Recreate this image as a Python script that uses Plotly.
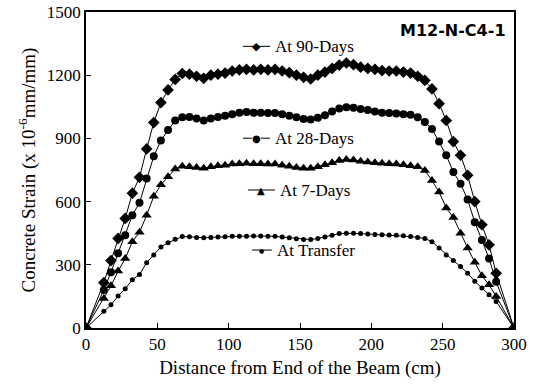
import plotly.graph_objects as go

distance = [0, 12.5, 17.5, 22.5, 27.5, 32.5, 37.5, 42.5, 47.5, 52.5, 57.5, 62.5, 67.5, 72.5,
            77.5, 82.5, 87.5, 92.5, 97.5, 102.5, 107.5, 112.5, 117.5, 122.5, 127.5, 132.5,
            137.5, 142.5, 147.5, 152.5, 157.5, 162.5, 167.5, 172.5, 177.5, 182.5, 187.5,
            192.5, 197.5, 202.5, 207.5, 212.5, 217.5, 222.5, 227.5, 232.5, 237.5, 242.5,
            247.5, 252.5, 257.5, 262.5, 267.5, 272.5, 277.5, 282.5, 287.5, 300]

strain_90d = [0, 215, 320, 425, 520, 640, 715, 850, 975, 1070, 1130, 1180, 1208, 1205,
              1195, 1185, 1200, 1205, 1210, 1220, 1225, 1228, 1225, 1228, 1225, 1228,
              1220, 1212, 1200, 1190, 1182, 1200, 1215, 1232, 1248, 1258, 1250,
              1238, 1232, 1228, 1222, 1220, 1220, 1215, 1210, 1195, 1175, 1135,
              1065, 985, 885, 820, 725, 600, 490, 395, 260, 0]

strain_28d = [0, 180, 265, 355, 440, 535, 595, 710, 815, 890, 940, 985, 1000, 1002,
              995, 985, 995, 1002, 1008, 1015, 1022, 1025, 1022, 1022, 1020, 1020,
              1015, 1008, 1000, 992, 990, 998, 1010, 1028, 1042, 1048, 1045,
              1040, 1035, 1028, 1022, 1020, 1018, 1015, 1012, 1000, 978, 945,
              885, 820, 740, 685, 610, 502, 418, 330, 220, 0]

strain_7d = [0, 140, 200, 270, 330, 410, 455, 535, 625, 680, 718, 755, 768, 765,
             762, 758, 765, 770, 772, 778, 780, 782, 780, 780, 778, 778,
             772, 768, 762, 758, 758, 765, 775, 785, 795, 800, 798,
             792, 788, 785, 782, 780, 778, 775, 770, 765, 748, 700,
             645, 570, 525, 450, 380, 312, 248, 205, 150, 0]

strain_transfer = [0, 80, 110, 152, 186, 229, 254, 310, 347, 385, 405, 421, 434, 433,
                   430, 428, 430, 432, 433, 435, 436, 436, 437, 437, 436, 435,
                   432, 428, 424, 420, 420, 425, 432, 440, 448, 450, 450,
                   448, 446, 444, 443, 442, 440, 438, 434, 430, 425, 410,
                   380, 347, 320, 292, 260, 222, 190, 158, 126, 0]

series_names = ["At 90-Days", "At 28-Days", "At 7-Days", "At Transfer"]
x_ticks = [0, 50, 100, 150, 200, 250, 300]
y_ticks = [0, 300, 600, 900, 1200, 1500]

fig = go.Figure()
styles = [
    (strain_90d, "diamond", 9),
    (strain_28d, "circle", 8),
    (strain_7d, "triangle-up", 9),
    (strain_transfer, "circle", 5),
]
for (vals, sym, sz), name in zip(styles, series_names):
    fig.add_trace(go.Scatter(
        x=distance, y=vals, mode="lines+markers", name=name,
        line=dict(color="black", width=1),
        marker=dict(symbol=sym, size=sz, color="black"),
        showlegend=False,
    ))

serif = "Liberation Serif, Times New Roman, serif"

# inline legend: (label, sample x0, sample x1, glyph, glyph size, dash, text x, y)
legend_items = [
    (series_names[0], 110, 129, "◆", 11, "solid", 131, 1337),
    (series_names[1], 110, 129, "●", 10, "dash", 131, 901),
    (series_names[2], 113.5, 132.5, "▲", 10, "solid", 134.5, 655),
    (series_names[3], 116.3, 130.3, "●", 6, "solid", 132.5, 370),
]
for label, x0, x1, glyph, gsz, dash, tx, yy in legend_items:
    fig.add_shape(type="line", xref="x", yref="y", x0=x0, x1=x1, y0=yy, y1=yy,
                  line=dict(color="black", width=1, dash=dash))
    fig.add_annotation(x=(x0 + x1) / 2, y=yy, xref="x", yref="y", text=glyph,
                       showarrow=False, xanchor="center", yanchor="middle",
                       font=dict(family="DejaVu Sans, sans-serif", size=gsz, color="black"))
    fig.add_annotation(x=tx, y=yy, xref="x", yref="y", text=label, showarrow=False,
                       xanchor="left", yanchor="middle",
                       font=dict(family=serif, size=17, color="black"))

fig.add_annotation(x=296, y=1413, xref="x", yref="y", text="<b>M12-N-C4-1</b>",
                   showarrow=False, xanchor="right", yanchor="middle",
                   font=dict(family="DejaVu Sans, sans-serif", size=16, color="black"))

fig.update_layout(
    width=535, height=389,
    margin=dict(l=86, r=21, t=12, b=61),
    paper_bgcolor="white", plot_bgcolor="white",
    font=dict(family=serif, size=17, color="black"),
)
fig.update_xaxes(
    range=[0, 300], tickvals=x_ticks, ticks="inside", ticklen=5, tickcolor="black",
    showline=True, linecolor="black", linewidth=1.5, mirror=True, showgrid=False,
    zeroline=False, tickfont=dict(size=17), automargin=False,
    title=dict(text="Distance from End of the Beam (cm)", font=dict(size=19), standoff=8),
)
fig.update_yaxes(
    range=[0, 1500], tickvals=y_ticks, ticks="inside", ticklen=5, tickcolor="black",
    showline=True, linecolor="black", linewidth=1.5, mirror=True, showgrid=False,
    zeroline=False, tickfont=dict(size=17), automargin=False,
    title=dict(text="Concrete Strain (x 10<sup>-6</sup>mm/mm)", font=dict(size=19), standoff=6),
)

fig.write_html("out.html", config={"displayModeBar": False},
               post_script="document.body.style.margin='0';")
